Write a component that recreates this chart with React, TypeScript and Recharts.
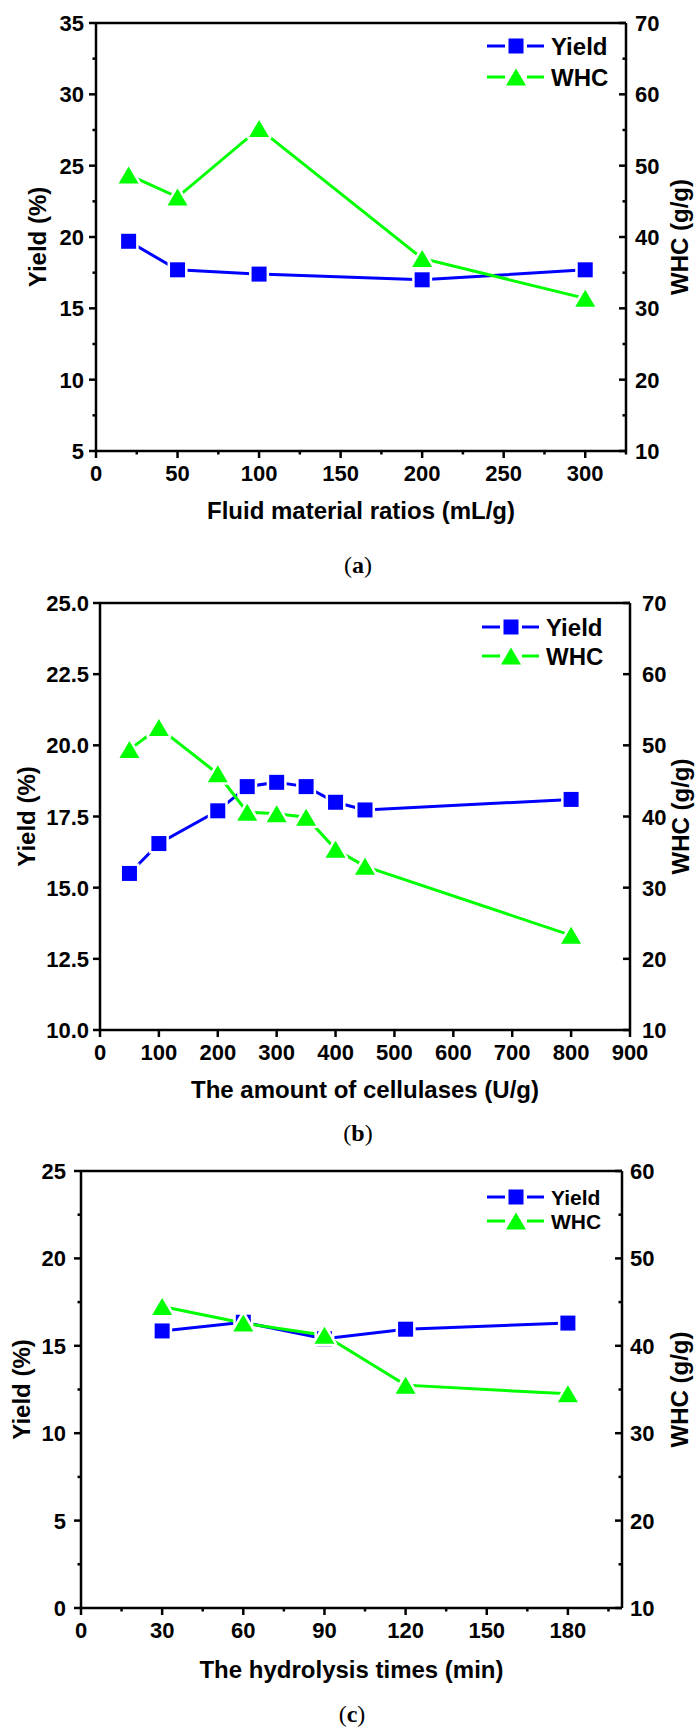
import React from 'react';
import { ComposedChart, Line, XAxis, YAxis, Legend, ReferenceLine } from 'recharts';

// (a) fluid material ratio series
const fluidRatios = [20, 50, 100, 200, 300];
const yieldByRatio = [19.7, 17.7, 17.4, 17.0, 17.7];
const whcByRatio = [48.7, 45.6, 55.2, 37.0, 31.4];

// (b) cellulase dose series
const cellulaseDoses = [50, 100, 200, 250, 300, 350, 400, 450, 800];
const yieldByDose = [15.5, 16.55, 17.7, 18.55, 18.7, 18.55, 18.0, 17.73, 18.1];
const whcByDose = [49.4, 52.5, 46.0, 40.6, 40.4, 39.9, 35.4, 33.0, 23.3];

// (c) hydrolysis time series
const hydrolysisTimes = [30, 60, 90, 120, 180];
const yieldByTime = [15.85, 16.35, 15.4, 15.95, 16.3];
const whcByTime = [44.5, 42.6, 41.2, 35.5, 34.5];

// tick values
const ratioTicks = [0, 50, 100, 150, 200, 250, 300];
const ratioMinor = [25, 75, 125, 175, 225, 275, 325];
const yieldTicksA = [5, 10, 15, 20, 25, 30, 35];
const yieldMinorA = [7.5, 12.5, 17.5, 22.5, 27.5, 32.5];
const whcTicksA = [10, 20, 30, 40, 50, 60, 70];
const whcMinorA = [15, 25, 35, 45, 55, 65];

const doseTicks = [0, 100, 200, 300, 400, 500, 600, 700, 800, 900];
const yieldTicksB = [10, 12.5, 15, 17.5, 20, 22.5, 25];
const whcTicksB = [10, 20, 30, 40, 50, 60, 70];

const timeTicks = [0, 30, 60, 90, 120, 150, 180];
const timeMinor = [15, 45, 75, 105, 135, 165, 195];
const yieldTicksC = [0, 5, 10, 15, 20, 25];
const yieldMinorC = [2.5, 7.5, 12.5, 17.5, 22.5];
const whcTicksC = [10, 20, 30, 40, 50, 60];
const whcMinorC = [15, 25, 35, 45, 55];

const SANS = '"Liberation Sans", Arial, Helvetica, sans-serif';
const BLUE = '#0000ff';
const GREEN = '#00ff00';
const AXIS_W = 2.5;
const W = 695;

type Side = 'left' | 'right' | 'bottom';

function makeTick(side: Side, majors: number[], fmt: (v: number) => string, gap = 10) {
  return (props: any) => {
    const { x = 0, y = 0, payload } = props;
    const v = payload?.value;
    const major = majors.includes(v);
    const len = major ? 7 : 3.5;
    const txt = { fontFamily: SANS, fontWeight: 700, fontSize: 22, fill: '#000' };
    if (side === 'bottom') {
      return (
        <g>
          <line x1={x} y1={y} x2={x} y2={y + len} stroke="#000" strokeWidth={AXIS_W} />
          {major && (
            <text x={x} y={y + 30} textAnchor="middle" {...txt}>
              {fmt(v)}
            </text>
          )}
        </g>
      );
    }
    if (side === 'left') {
      return (
        <g>
          <line x1={x} y1={y} x2={x - len} y2={y} stroke="#000" strokeWidth={AXIS_W} />
          {major && (
            <text x={x - gap} y={y + 8} textAnchor="end" {...txt}>
              {fmt(v)}
            </text>
          )}
        </g>
      );
    }
    // right axis: ticks point inward
    return (
      <g>
        <line x1={x} y1={y} x2={x - len} y2={y} stroke="#000" strokeWidth={AXIS_W} />
        {major && (
          <text x={x + gap} y={y + 8} textAnchor="start" {...txt}>
            {fmt(v)}
          </text>
        )}
      </g>
    );
  };
}

function SquareDot(props: any) {
  const { cx, cy } = props;
  if (cx == null || cy == null) return null;
  return (
    <rect
      x={cx - 7.5}
      y={cy - 7.5}
      width={15}
      height={15}
      fill={BLUE}
      stroke="#fff"
      strokeWidth={5}
      style={{ paintOrder: 'stroke' }}
    />
  );
}

function TriangleDot(props: any) {
  const { cx, cy } = props;
  if (cx == null || cy == null) return null;
  const pts = `${cx},${cy - 8.5} ${cx - 10},${cy + 8.5} ${cx + 10},${cy + 8.5}`;
  return (
    <polygon
      points={pts}
      fill={GREEN}
      stroke="#fff"
      strokeWidth={5}
      strokeLinejoin="round"
      style={{ paintOrder: 'stroke' }}
    />
  );
}

function LegendBox({ gap, fontSize }: { gap: number; fontSize: number }) {
  const rows = [
    { name: 'Yield', color: BLUE, y: 16 },
    { name: 'WHC', color: GREEN, y: 16 + gap },
  ];
  const mx = 36;
  return (
    <svg width={150} height={gap + 34}>
      {rows.map((r) => (
        <g key={r.name}>
          <line x1={7} y1={r.y} x2={mx - 11} y2={r.y} stroke={r.color} strokeWidth={3} />
          <line x1={mx + 11} y1={r.y} x2={64} y2={r.y} stroke={r.color} strokeWidth={3} />
          {r.name === 'Yield' ? (
            <rect x={mx - 7.5} y={r.y - 7.5} width={15} height={15} fill={BLUE} />
          ) : (
            <polygon
              points={`${mx},${r.y - 8.5} ${mx - 10},${r.y + 8.5} ${mx + 10},${r.y + 8.5}`}
              fill={GREEN}
            />
          )}
          <text
            x={71}
            y={r.y + fontSize * 0.36}
            fontFamily={SANS}
            fontWeight={700}
            fontSize={fontSize}
            fill="#000"
          >
            {r.name}
          </text>
        </g>
      ))}
    </svg>
  );
}

type PanelProps = {
  top: number;
  height: number;
  xs: number[];
  yields: number[];
  whcs: number[];
  xDomain: [number, number];
  xMajors: number[];
  xMinors: number[];
  yDomain: [number, number];
  yMajors: number[];
  yMinors: number[];
  yFmt: (v: number) => string;
  rDomain: [number, number];
  rMajors: number[];
  rMinors: number[];
  plot: { left: number; right: number; top: number; bottom: number };
  labelGap: { left: number; right: number };
  xTitle: string;
  xTitleY: number;
  yTitleX: number;
  rTitleX: number;
  legend: { left: number; top: number; gap: number; fontSize: number };
};

function DualAxisPanel(p: PanelProps) {
  const rows = p.xs.map((x, i) => ({ x, yield: p.yields[i], whc: p.whcs[i] }));
  const midX = (p.plot.left + p.plot.right) / 2;
  const midY = (p.plot.top + p.plot.bottom) / 2;
  const titleStyle = { fontFamily: SANS, fontWeight: 700, fontSize: 24, fill: '#000' };
  const plain = (v: number) => String(v);

  return (
    <div style={{ position: 'absolute', left: 0, top: p.top, width: W, height: p.height }}>
      <ComposedChart
        width={W}
        height={p.height}
        data={rows}
        margin={{ top: p.plot.top, right: 0, bottom: 0, left: 0 }}
      >
        <XAxis
          dataKey="x"
          type="number"
          domain={p.xDomain}
          ticks={[...p.xMajors, ...p.xMinors]}
          interval={0}
          allowDataOverflow
          height={p.height - p.plot.bottom}
          tickSize={0}
          tickMargin={0}
          tickLine={false}
          axisLine={{ stroke: '#000', strokeWidth: AXIS_W }}
          tick={makeTick('bottom', p.xMajors, plain)}
          label={() => (
            <text x={midX} y={p.xTitleY} textAnchor="middle" {...titleStyle}>
              {p.xTitle}
            </text>
          )}
        />
        <YAxis
          yAxisId="left"
          type="number"
          domain={p.yDomain}
          ticks={[...p.yMajors, ...p.yMinors]}
          interval={0}
          allowDataOverflow
          width={p.plot.left}
          tickSize={0}
          tickMargin={0}
          tickLine={false}
          axisLine={{ stroke: '#000', strokeWidth: AXIS_W }}
          tick={makeTick('left', p.yMajors, p.yFmt, p.labelGap.left)}
          label={() => (
            <text
              transform={`translate(${p.yTitleX},${midY}) rotate(-90)`}
              textAnchor="middle"
              {...titleStyle}
            >
              Yield (%)
            </text>
          )}
        />
        <YAxis
          yAxisId="right"
          orientation="right"
          type="number"
          domain={p.rDomain}
          ticks={[...p.rMajors, ...p.rMinors]}
          interval={0}
          allowDataOverflow
          width={W - p.plot.right}
          tickSize={0}
          tickMargin={0}
          tickLine={false}
          axisLine={{ stroke: '#000', strokeWidth: AXIS_W }}
          tick={makeTick('right', p.rMajors, plain, p.labelGap.right)}
          label={() => (
            <text
              transform={`translate(${p.rTitleX},${midY}) rotate(-90)`}
              textAnchor="middle"
              {...titleStyle}
            >
              WHC (g/g)
            </text>
          )}
        />
        <ReferenceLine
          yAxisId="left"
          y={p.yDomain[1]}
          stroke="#000"
          strokeWidth={AXIS_W}
        />
        <Line
          yAxisId="left"
          dataKey="yield"
          name="Yield"
          type="linear"
          stroke={BLUE}
          strokeWidth={3}
          dot={(d: any) => <SquareDot key={`y-${d.index}`} {...d} />}
          activeDot={false}
          isAnimationActive={false}
        />
        <Line
          yAxisId="right"
          dataKey="whc"
          name="WHC"
          type="linear"
          stroke={GREEN}
          strokeWidth={3}
          dot={(d: any) => <TriangleDot key={`w-${d.index}`} {...d} />}
          activeDot={false}
          isAnimationActive={false}
        />
        <Legend
          layout="vertical"
          align="center"
          verticalAlign="middle"
          content={() => <LegendBox gap={p.legend.gap} fontSize={p.legend.fontSize} />}
          wrapperStyle={{ left: p.legend.left, top: p.legend.top, width: 150, height: p.legend.gap + 34 }}
        />
      </ComposedChart>
    </div>
  );
}

function Caption({ letter, x, y }: { letter: string; x: number; y: number }) {
  return (
    <div
      style={{
        position: 'absolute',
        left: x,
        top: y,
        transform: 'translate(-50%, -50%)',
        fontFamily: '"Liberation Serif", "DejaVu Serif", serif',
        fontSize: 24,
        lineHeight: '28px',
        color: '#000',
        whiteSpace: 'nowrap',
      }}
    >
      (<b>{letter}</b>)
    </div>
  );
}

export default function App() {
  return (
    <div
      style={{
        position: 'absolute',
        left: 0,
        top: 0,
        width: W,
        height: 1729,
        background: '#fff',
        overflow: 'hidden',
      }}
    >
      <DualAxisPanel
        top={0}
        height={545}
        xs={fluidRatios}
        yields={yieldByRatio}
        whcs={whcByRatio}
        xDomain={[0, 325]}
        xMajors={ratioTicks}
        xMinors={ratioMinor}
        yDomain={[5, 35]}
        yMajors={yieldTicksA}
        yMinors={yieldMinorA}
        yFmt={(v) => String(v)}
        rDomain={[10, 70]}
        rMajors={whcTicksA}
        rMinors={whcMinorA}
        plot={{ left: 96, right: 626, top: 23, bottom: 451 }}
        labelGap={{ left: 12, right: 9 }}
        xTitle="Fluid material ratios (mL/g)"
        xTitleY={519}
        yTitleX={46}
        rTitleX={688}
        legend={{ left: 480, top: 30, gap: 31, fontSize: 24 }}
      />
      <Caption letter="a" x={358} y={565} />

      <DualAxisPanel
        top={580}
        height={545}
        xs={cellulaseDoses}
        yields={yieldByDose}
        whcs={whcByDose}
        xDomain={[0, 900]}
        xMajors={doseTicks}
        xMinors={[]}
        yDomain={[10, 25]}
        yMajors={yieldTicksB}
        yMinors={[]}
        yFmt={(v) => v.toFixed(1)}
        rDomain={[10, 70]}
        rMajors={whcTicksB}
        rMinors={[]}
        plot={{ left: 100, right: 630, top: 23, bottom: 450 }}
        labelGap={{ left: 11, right: 12 }}
        xTitle="The amount of cellulases (U/g)"
        xTitleY={518}
        yTitleX={35}
        rTitleX={689}
        legend={{ left: 475, top: 31, gap: 29, fontSize: 24 }}
      />
      <Caption letter="b" x={358} y={1133} />

      <DualAxisPanel
        top={1148}
        height={545}
        xs={hydrolysisTimes}
        yields={yieldByTime}
        whcs={whcByTime}
        xDomain={[0, 200]}
        xMajors={timeTicks}
        xMinors={timeMinor}
        yDomain={[0, 25]}
        yMajors={yieldTicksC}
        yMinors={yieldMinorC}
        yFmt={(v) => String(v)}
        rDomain={[10, 60]}
        rMajors={whcTicksC}
        rMinors={whcMinorC}
        plot={{ left: 81, right: 622, top: 23, bottom: 460 }}
        labelGap={{ left: 15, right: 8 }}
        xTitle="The hydrolysis times (min)"
        xTitleY={530}
        yTitleX={30}
        rTitleX={688}
        legend={{ left: 480, top: 33, gap: 24, fontSize: 21 }}
      />
      <Caption letter="c" x={352} y={1714} />
    </div>
  );
}
